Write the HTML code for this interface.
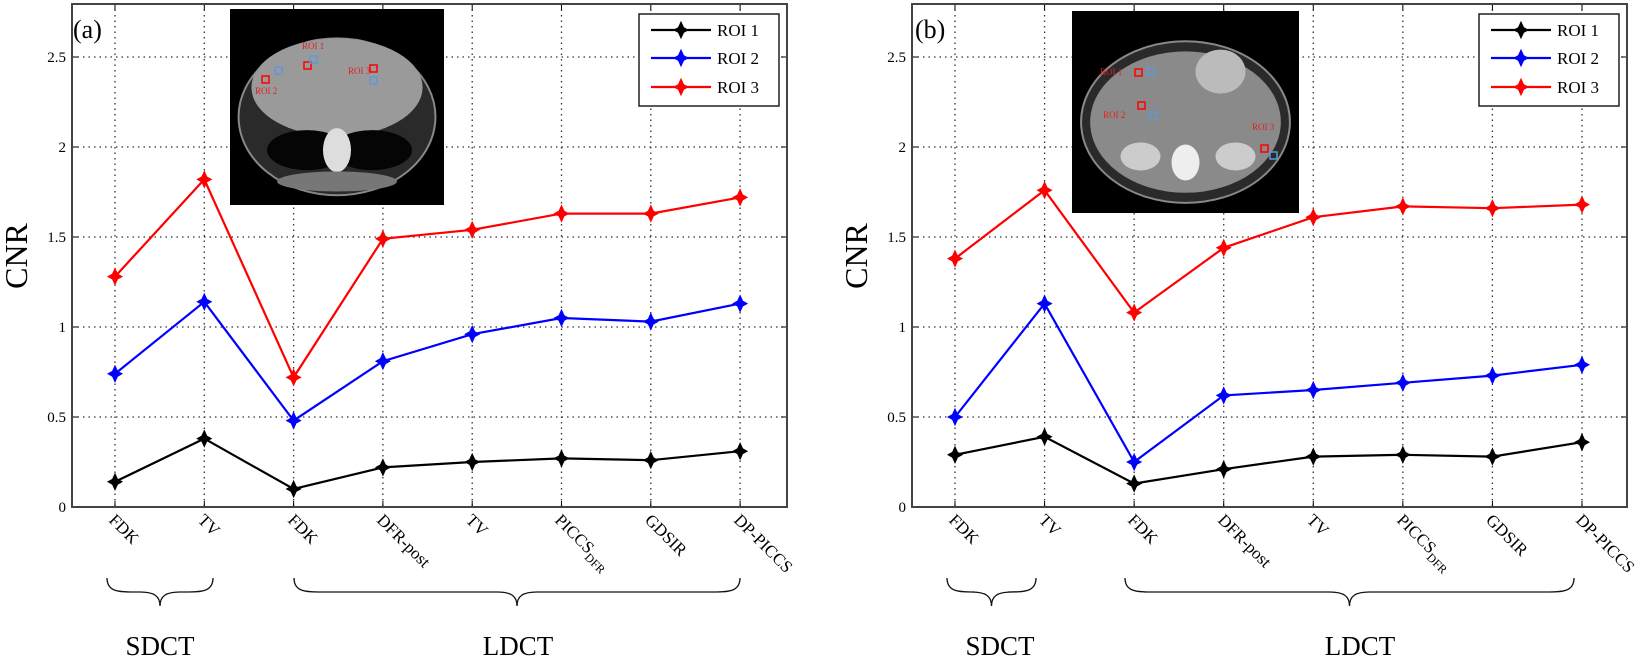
<!DOCTYPE html>
<html><head><meta charset="utf-8">
<style>
html,body{margin:0;padding:0;background:#fff;}
svg{display:block;font-family:"Liberation Serif",serif;}
</style></head>
<body>
<svg id="s" width="1650" height="660" viewBox="0 0 1650 660" xmlns="http://www.w3.org/2000/svg">
<g id="g"></g>
<g font-size="15" text-anchor="end" fill="#000">
<text x="66" y="512">0</text><text x="66" y="422">0.5</text><text x="66" y="332">1</text>
<text x="66" y="242">1.5</text><text x="66" y="152">2</text><text x="66" y="62">2.5</text>
<text x="906" y="512">0</text><text x="906" y="422">0.5</text><text x="906" y="332">1</text>
<text x="906" y="242">1.5</text><text x="906" y="152">2</text><text x="906" y="62">2.5</text>
</g>
<text transform="translate(27,256) rotate(-90)" font-size="32" text-anchor="middle">CNR</text>
<text transform="translate(867,256) rotate(-90)" font-size="32" text-anchor="middle">CNR</text>
<text x="73" y="38" font-size="26">(a)</text>
<text x="915" y="38" font-size="26">(b)</text>
<g font-size="17">
<text transform="translate(108,521) rotate(45)">FDK</text>
<text transform="translate(197,521) rotate(45)">TV</text>
<text transform="translate(287,521) rotate(45)">FDK</text>
<text transform="translate(376,521) rotate(45)">DFR-post</text>
<text transform="translate(465,521) rotate(45)">TV</text>
<text transform="translate(554,521) rotate(45)">PICCS<tspan font-size="12" dy="5">DFR</tspan></text>
<text transform="translate(644,521) rotate(45)">GDSIR</text>
<text transform="translate(733,521) rotate(45)">DP-PICCS</text>
<text transform="translate(948,521) rotate(45)">FDK</text>
<text transform="translate(1038,521) rotate(45)">TV</text>
<text transform="translate(1127,521) rotate(45)">FDK</text>
<text transform="translate(1217,521) rotate(45)">DFR-post</text>
<text transform="translate(1306,521) rotate(45)">TV</text>
<text transform="translate(1396,521) rotate(45)">PICCS<tspan font-size="12" dy="5">DFR</tspan></text>
<text transform="translate(1485,521) rotate(45)">GDSIR</text>
<text transform="translate(1575,521) rotate(45)">DP-PICCS</text>
</g>
<g font-size="27" text-anchor="middle">
<text x="160" y="655">SDCT</text><text x="518" y="655">LDCT</text>
<text x="1000" y="655">SDCT</text><text x="1360" y="655">LDCT</text>
</g>
<g font-size="17">
<text x="717" y="36">ROI 1</text><text x="717" y="64">ROI 2</text><text x="717" y="93">ROI 3</text>
<text x="1557" y="36">ROI 1</text><text x="1557" y="64">ROI 2</text><text x="1557" y="93">ROI 3</text>
</g>
<g font-size="9" fill="#e02020">
<text x="302" y="49">ROI 1</text><text x="348" y="74">ROI 3</text><text x="255" y="94">ROI 2</text>
<text x="1100" y="75">ROI 1</text><text x="1103" y="118">ROI 2</text><text x="1252" y="130">ROI 3</text>
</g>
</svg>
<script>
const g=document.getElementById('g');const NS='http://www.w3.org/2000/svg';
function el(t,a,p){const e=document.createElementNS(NS,t);for(const k in a)e.setAttribute(k,a[k]);(p||g).appendChild(e);return e;}
const Y=v=>507-180*v;
function panel(L,R,x0,dx,data,inset,leg,brace){
  for(let i=0;i<8;i++){const x=x0+i*dx;el('line',{x1:x,y1:4,x2:x,y2:507,stroke:'#333','stroke-width':1.3,'stroke-dasharray':'1.5 4'});
    el('line',{x1:x,y1:4,x2:x,y2:10,stroke:'#000'});el('line',{x1:x,y1:507,x2:x,y2:501,stroke:'#000'});}
  for(let v=0.5;v<2.8;v+=0.5){const y=Y(v);el('line',{x1:L,y1:y,x2:R,y2:y,stroke:'#333','stroke-width':1.3,'stroke-dasharray':'1.5 4'});
    el('line',{x1:L,y1:y,x2:L+6,y2:y,stroke:'#000'});el('line',{x1:R,y1:y,x2:R-6,y2:y,stroke:'#000'});}
  el('rect',{x:L,y:4,width:R-L,height:503,fill:'none',stroke:'#444','stroke-width':2});
  const [ix,iy,iw,ih,kind]=inset;
  el('rect',{x:ix,y:iy,width:iw,height:ih,fill:'#000'});
  const cx=ix+iw/2,cy=iy+ih*0.55;
  el('ellipse',{cx:cx,cy:cy,rx:iw*0.46,ry:ih*0.4,fill:'#2a2a2a',stroke:'#888','stroke-width':2});
  if(kind==0){
    el('ellipse',{cx:cx,cy:iy+ih*0.4,rx:iw*0.4,ry:ih*0.25,fill:'#9a9a9a'});
    el('ellipse',{cx:cx-30,cy:iy+ih*0.72,rx:40,ry:20,fill:'#050505'});
    el('ellipse',{cx:cx+35,cy:iy+ih*0.72,rx:40,ry:20,fill:'#050505'});
    el('ellipse',{cx:cx,cy:iy+ih*0.72,rx:14,ry:22,fill:'#ddd'});
    el('ellipse',{cx:cx,cy:iy+ih*0.88,rx:60,ry:10,fill:'#777'});
  } else {
    el('ellipse',{cx:cx,cy:cy,rx:iw*0.42,ry:ih*0.35,fill:'#8a8a8a'});
    el('ellipse',{cx:cx+35,cy:iy+ih*0.3,rx:25,ry:22,fill:'#bbb'});
    el('ellipse',{cx:cx-45,cy:iy+ih*0.72,rx:20,ry:14,fill:'#ccc'});
    el('ellipse',{cx:cx+50,cy:iy+ih*0.72,rx:20,ry:14,fill:'#ccc'});
    el('ellipse',{cx:cx,cy:iy+ih*0.75,rx:14,ry:18,fill:'#eee'});
  }
  for(const [rx,ry,c] of inset[5]) el('rect',{x:rx,y:ry,width:7,height:7,fill:'none',stroke:c,'stroke-width':1.5});
  const cols=['#000','#00f','#f00'];
  data.forEach((d,k)=>{
    el('polyline',{points:d.map((v,i)=>(x0+i*dx)+','+Y(v)).join(' '),fill:'none',stroke:cols[k],'stroke-width':2.2});
    d.forEach((v,i)=>marker(x0+i*dx,Y(v),cols[k]));
  });
  const [lx,ly,lw,lh]=leg;
  el('rect',{x:lx,y:ly,width:lw,height:lh,fill:'#fff',stroke:'#222','stroke-width':1.5});
  [30,58,87].forEach((y,k)=>{el('line',{x1:lx+12,y1:y,x2:lx+72,y2:y,stroke:cols[k],'stroke-width':2.2});marker(lx+42,y,cols[k]);});
  brace.forEach(([a,b])=>{const m=(a+b)/2;
    el('path',{d:`M${a},578 C${a},592 ${a+12},592 ${a+28},592 L${m-20},592 C${m-6},592 ${m},596 ${m},606 C${m},596 ${m+6},592 ${m+20},592 L${b-28},592 C${b-12},592 ${b},592 ${b},578`,fill:'none',stroke:'#111','stroke-width':1.3});});
}
function marker(x,y,c){
  el('path',{d:`M${x},${y-8} L${x+2.5},${y-2.5} L${x+7},${y} L${x+2.5},${y+2.5} L${x},${y+8} L${x-2.5},${y+2.5} L${x-7},${y} L${x-2.5},${y-2.5} Z`,fill:c,stroke:c,'stroke-width':1});
}
panel(72,787,115,89.3,[
 [0.14,0.38,0.10,0.22,0.25,0.27,0.26,0.31],
 [0.74,1.14,0.48,0.81,0.96,1.05,1.03,1.13],
 [1.28,1.82,0.72,1.49,1.54,1.63,1.63,1.72]],
 [230,9,214,196,0,[[304,62,'#f00'],[310,56,'#5a9ad8'],[262,76,'#f00'],[275,67,'#5a9ad8'],[370,65,'#f00'],[370,77,'#5a9ad8']]],
 [639,14,140,92],[[107,213],[294,740]]);
panel(912,1627,955,89.57,[
 [0.29,0.39,0.13,0.21,0.28,0.29,0.28,0.36],
 [0.50,1.13,0.25,0.62,0.65,0.69,0.73,0.79],
 [1.38,1.76,1.08,1.44,1.61,1.67,1.66,1.68]],
 [1072,11,227,202,1,[[1135,69,'#f00'],[1147,68,'#5a9ad8'],[1138,102,'#f00'],[1150,112,'#5a9ad8'],[1261,145,'#f00'],[1270,152,'#5a9ad8']]],
 [1479,14,140,92],[[947,1036],[1125,1574]]);
</script>
</body></html>
